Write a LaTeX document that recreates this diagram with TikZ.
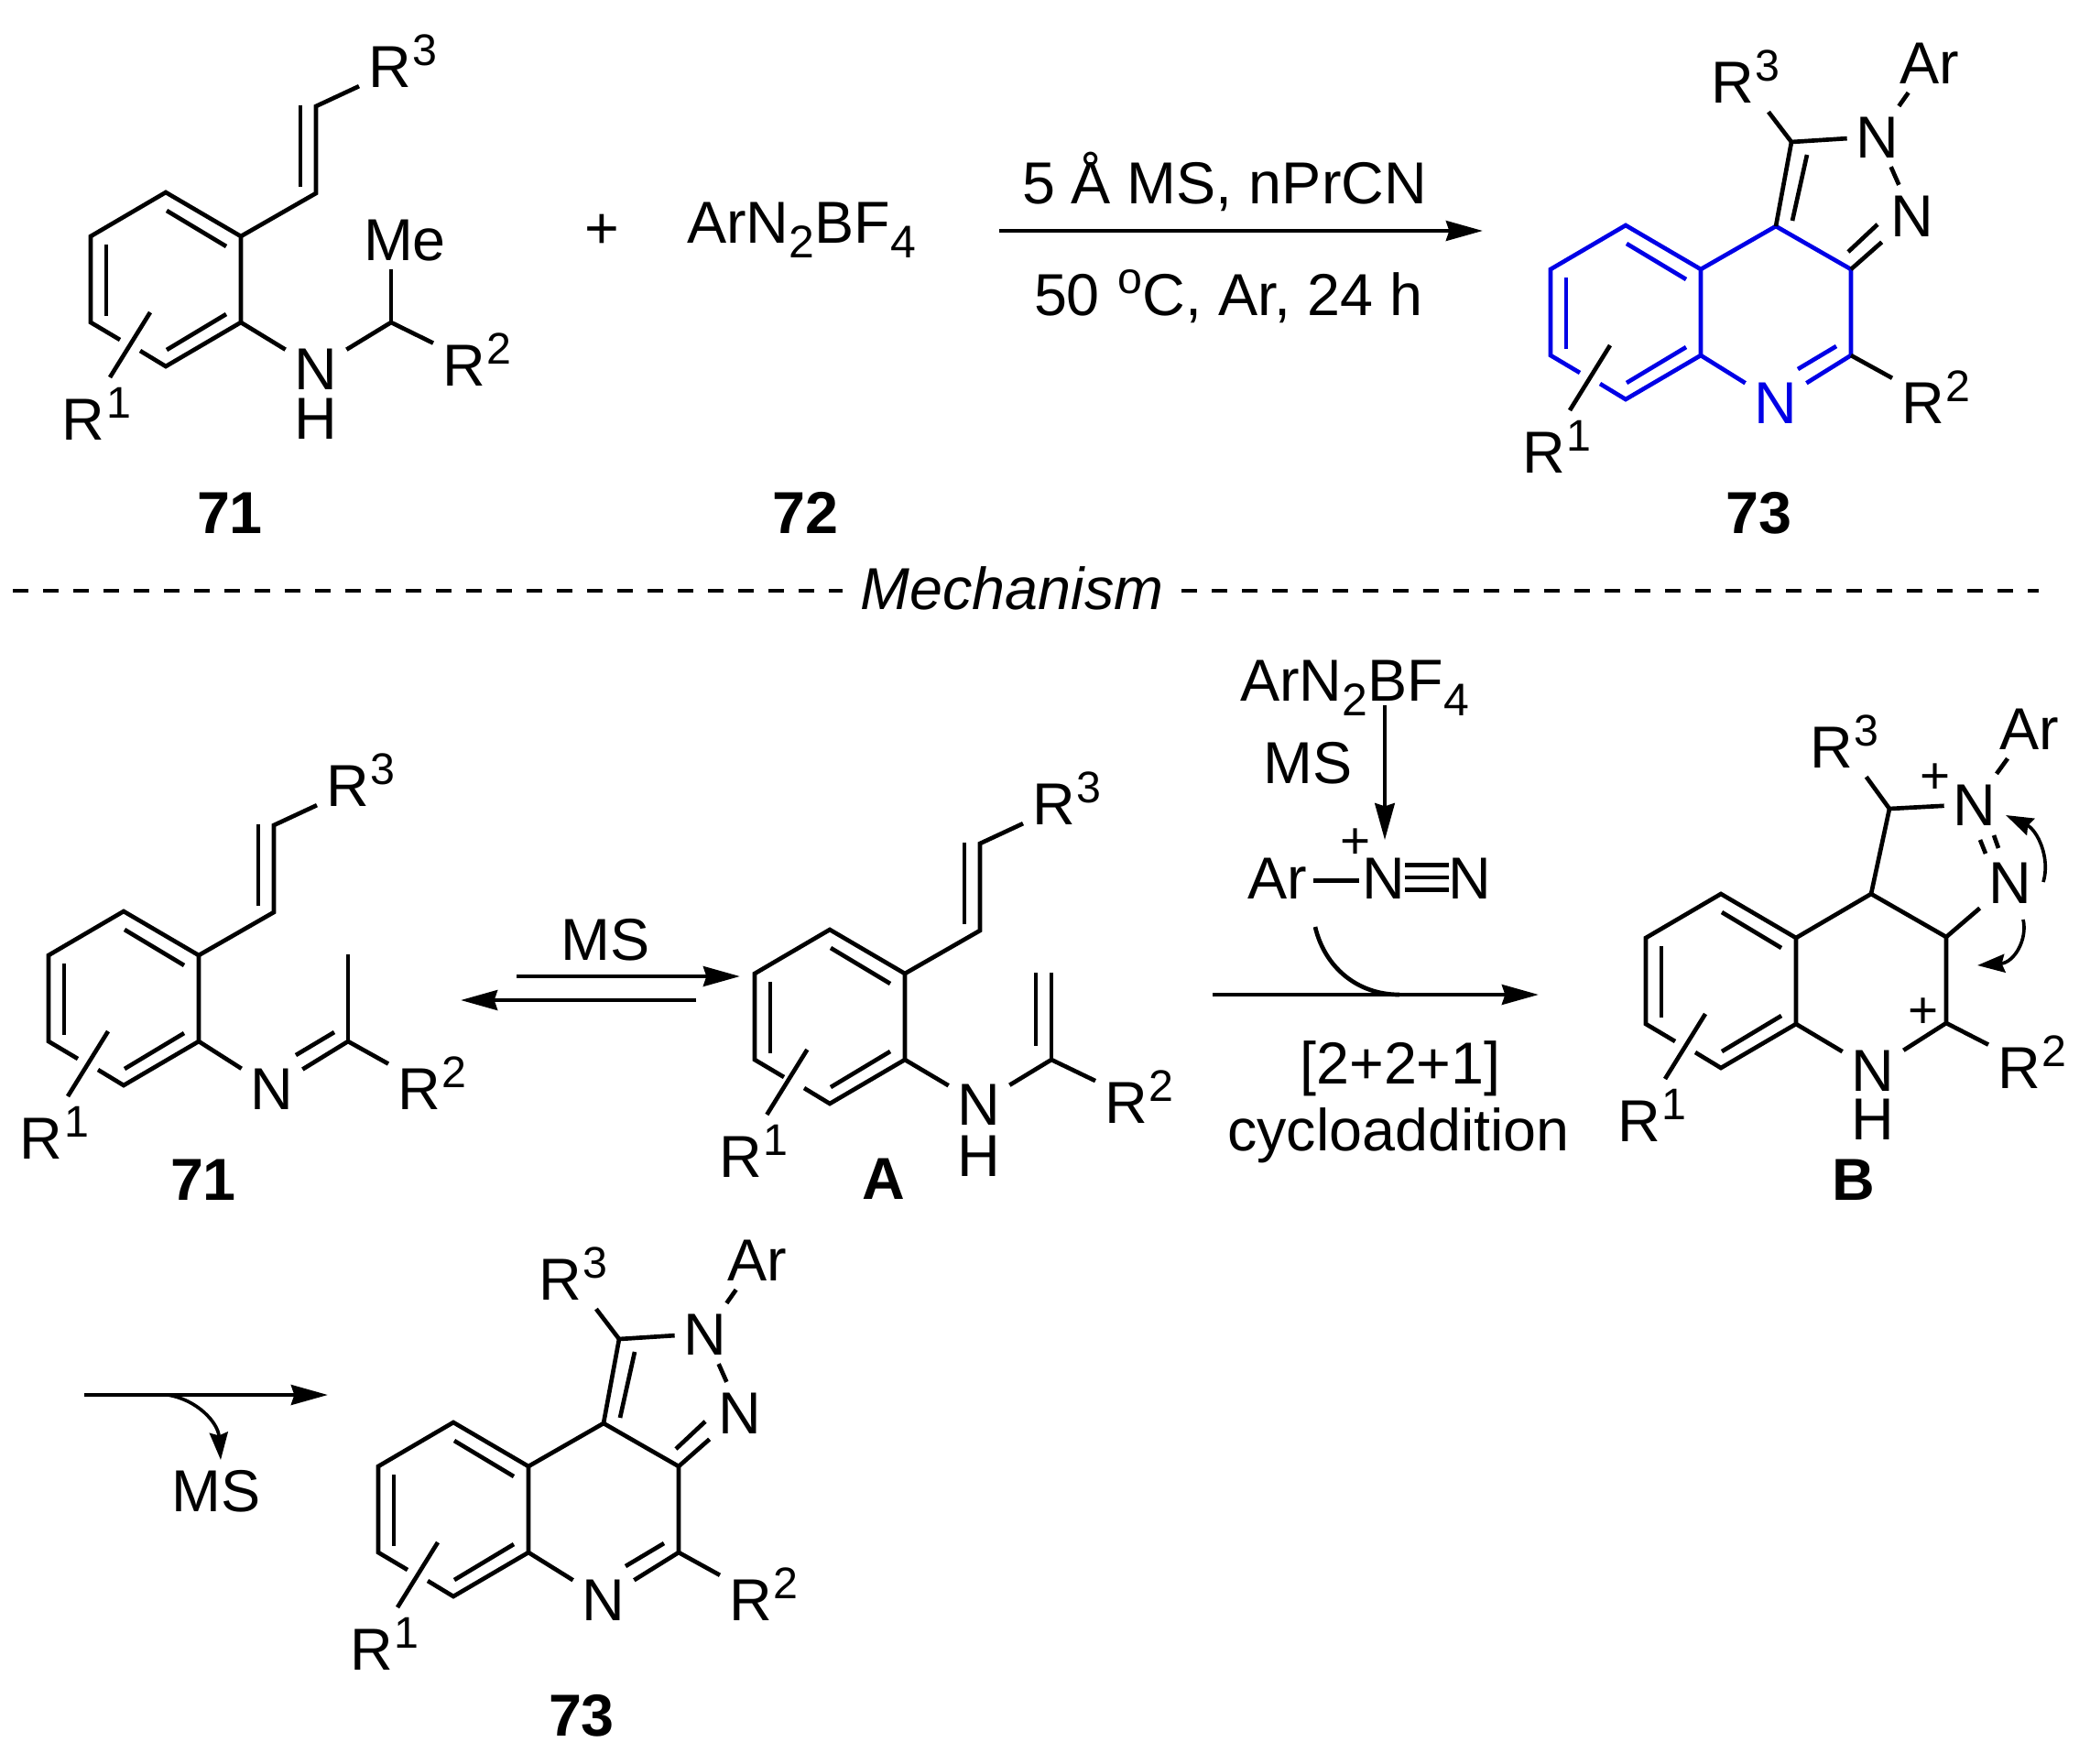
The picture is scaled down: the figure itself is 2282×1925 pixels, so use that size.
\documentclass[tikz,border=0pt]{standalone}
\usepackage{fontspec}
\setmainfont{Liberation Sans}
\usetikzlibrary{arrows.meta}

\definecolor{ringblue}{RGB}{0,0,230}
\newcommand{\rsup}[1]{\kern0.5pt\raisebox{7.2pt}{\fontsize{14.5pt}{14.5pt}\selectfont #1}}
\newcommand{\rsub}[1]{\raisebox{-5pt}{\fontsize{15pt}{15pt}\selectfont #1}}

\tikzset{
    every node/.style={font=\fontsize{19.4pt}{23pt}\selectfont},
    bond/.style={line width=1.4pt},
    ringbond/.style={bond},
    slashshift/.style={},
    atom/.style={inner sep=0pt, outer sep=3pt, text height=13.9pt, text depth=0pt},
    ringatom/.style={atom},
    rlab/.style={atom, anchor=west},
    charge/.style={atom, font=\fontsize{17pt}{20pt}\selectfont},
    cmpd/.style={atom, font=\fontsize{19.4pt}{23pt}\selectfont\bfseries},
    rxn/.style={line width=1.4pt, -{Stealth[length=12pt, width=6.5pt, inset=1pt]}},
    curly/.style={line width=1.1pt, -{Stealth[length=9pt, width=6pt, inset=1pt]}},
    pics/benzo/.style={code={
        \coordinate (-t) at (0,-95);
        \coordinate (-ur) at (82,-47);
        \coordinate (-lr) at (82,47);
        \coordinate (-b) at (0,95);
        \coordinate (-ll) at (-82,47);
        \coordinate (-ul) at (-82,-47);
        \coordinate (-g1) at (-50,66);
        \coordinate (-g2) at (-28,78);
        \draw[ringbond] (-g2) -- (-b) -- (-lr) -- (-ur) -- (-t) -- (-ul) -- (-ll) -- (-g1);
        \draw[ringbond] (1,-75) -- (66,-36);
        \draw[ringbond] (66,38) -- (1,77);
        \draw[ringbond] (-65,-38) -- (-65,40);
        \draw[bond, slashshift] (-17,36) -- (-61,107);
        \node[rlab, slashshift] (-r1) at (-123,152) {R\rsup{1}};
    }},
    pics/styryl/.style={code={
        \coordinate (-ur) at (82,-47);
        \coordinate (-v1) at (164,-94);
        \coordinate (-v2) at (164,-189);
        \node[rlab] (-r3) at (211,-233) {R\rsup{3}};
        \draw[bond] (-ur) -- (-v1) -- (-v2) -- (-r3);
        \draw[bond] (147,-190) -- (147,-101);
    }},
    pics/quin/.style={code={
        \coordinate (-c4) at (164,-94);
        \coordinate (-c3) at (246,-47);
        \coordinate (-c2) at (246,47);
        \coordinate (-c1) at (181,-186);
        \node[ringatom] (-n) at (164,98) {N};
        \node[atom] (-n1) at (275,-192) {N};
        \node[atom] (-n2) at (313,-106) {N};
        \node[atom] (-ar) at (332,-273) {Ar};
        \node[rlab] (-r3) at (83,-252) {R\rsup{3}};
        \node[rlab] (-r2) at (291,98) {R\rsup{2}};
        \draw[ringbond] (-ur) -- (-c4) -- (-c3) -- (-c2) -- (-n);
        \draw[ringbond] (-n) -- (-lr);
        \draw[ringbond] (230,37) -- (188,62);
        \draw[bond] (-c3) -- (-n2);
        \draw[bond] (-c4) -- (-c1) -- (-n1);
        \draw[bond] (-c1) -- (-r3);
        \draw[bond] (-n1) -- (-n2);
        \draw[bond] (-n1) -- (-ar);
        \draw[bond] (-c2) -- (-r2);
        \draw[bond] (243,-66) -- (275,-96);
        \draw[bond] (198,-172) -- (182,-100);
    }},
}

\begin{document}
\begin{tikzpicture}[x=0.3pt, y=-0.3pt]
    \useasboundingbox (0,0) rectangle (2282,1925);

    % top scheme
    \pic (ta) at (181,305) {benzo};
    \pic (ta) at (181,305) {styryl};
    \coordinate (tac) at (427,352);
    \node[atom] (tan) at (345,402) {N};
    \node[atom] (tah) at (345,456) {H};
    \node[atom] (tame) at (442,261) {Me};
    \node[rlab] (tar2) at (473,398) {R\rsup{2}};
    \draw[bond] (ta-lr) -- (tan) -- (tac) -- (tar2);
    \draw[bond] (tac) -- (tac |- tame.south);
    \node[cmpd] (ta71) at (251,559) {71};

    \node[atom] (plus) at (657,248) {+};
    \node[atom] (salt) at (875,242) {ArN\rsub{2}BF\rsub{4}};
    \node[cmpd] (ta72) at (879,559) {72};

    \coordinate (ts) at (1091,252);
    \coordinate (te) at (1619,252);
    \draw[rxn] (ts) -- (te);
    \node[atom] (cond1) at (1337,199) {5 Å MS, nPrCN};
    \node[atom] (cond2) at (1341,321) {50 \rsup{o}C, Ar, 24 h};

    \begin{scope}[ringbond/.style={bond, draw=ringblue}, ringatom/.style={atom, text=ringblue}]
        \pic (tq) at (1775,341) {benzo};
        \pic (tq) at (1775,341) {quin};
    \end{scope}
    \node[cmpd] (ta73) at (1920,559) {73};

    % divider
    \node[atom, outer sep=6pt, font=\fontsize{19.4pt}{23pt}\selectfont\itshape] (mech) at (1105,642) {Mechanism};
    \coordinate (dl) at (14,645);
    \coordinate (dr) at (2226,645);
    \draw[line width=1.3pt, dash pattern=on 5pt off 4.9pt] (dl) -- (dl -| mech.west);
    \draw[line width=1.3pt, dash pattern=on 5pt off 4.9pt] (dr -| mech.east) -- (dr);

    % imine
    \pic (ma) at (135,1090) {benzo};
    \pic (ma) at (135,1090) {styryl};
    \coordinate (mac) at (380,1137);
    \coordinate (mame) at (380,1042);
    \node[atom] (man) at (297,1188) {N};
    \node[rlab] (mar2) at (424,1188) {R\rsup{2}};
    \draw[bond] (ma-lr) -- (man);
    \draw[bond] (man) -- (mac) -- (mar2);
    \draw[bond] (mac) -- (mame);
    \draw[bond] (365,1127) -- (323,1152);
    \node[cmpd] (ma71) at (222,1287) {71};

    \coordinate (eqa) at (564,1066);
    \coordinate (eqb) at (808,1066);
    \coordinate (eqc) at (760,1092);
    \coordinate (eqd) at (503,1092);
    \draw[rxn] (eqa) -- (eqb);
    \draw[rxn] (eqc) -- (eqd);
    \node[atom] (eqms) at (661,1025) {MS};

    % enamine A
    \begin{scope}[slashshift/.style={xshift=-2.3pt}]
        \pic (en) at (906,1110) {benzo};
    \end{scope}
    \pic (en) at (906,1110) {styryl};
    \coordinate (enc) at (1148,1157);
    \coordinate (ent) at (1148,1062);
    \node[atom] (enn) at (1069,1205) {N};
    \node[atom] (enh) at (1069,1261) {H};
    \node[rlab] (enr2) at (1196,1203) {R\rsup{2}};
    \draw[bond] (en-lr) -- (enn) -- (enc) -- (enr2);
    \draw[bond] (enc) -- (ent);
    \draw[bond] (1131,1062) -- (1131,1142);
    \node[cmpd] (enA) at (965,1286) {A};

    % diazonium
    \node[atom] (dsalt) at (1479,742) {ArN\rsub{2}BF\rsub{4}};
    \node[atom] (dms) at (1428,832) {MS};
    \coordinate (dv1) at (1512,770);
    \coordinate (dv2) at (1512,917);
    \draw[line width=1.1pt, -{Stealth[length=12pt, width=6.5pt, inset=1pt]}] (dv1) -- (dv2);
    \node[charge] (dplus) at (1480,914) {+};
    \node[atom] (dar) at (1395,958) {Ar};
    \node[atom] (dn1) at (1511,958) {N};
    \node[atom] (dn2) at (1605,958) {N};
    \draw[bond] ([xshift=-1pt, yshift=-1pt]dar.east) -- ([xshift=2pt, yshift=-1pt]dn1.west);
    \draw[bond] ([xshift=-3pt, yshift=-4pt]dn1.east) -- ([xshift=3pt, yshift=-4pt]dn2.west);
    \draw[bond] ([xshift=-3pt]dn1.east) -- ([xshift=3pt]dn2.west);
    \draw[bond] ([xshift=-3pt, yshift=4pt]dn1.east) -- ([xshift=3pt, yshift=4pt]dn2.west);

    \coordinate (cys) at (1324,1086);
    \coordinate (cye) at (1680,1086);
    \coordinate (cyc) at (1436,1012);
    \draw[rxn] (cys) -- (cye);
    \draw[bond] (cyc) .. controls (1446,1055) and (1481,1086) .. (1528,1086);
    \node[atom] (cy1) at (1529,1160) {[2+2+1]};
    \node[atom] (cy2) at (1527,1233) {cycloaddition};

    % intermediate B
    \pic (bi) at (1879,1071) {benzo};
    \begin{scope}[shift={(1879,1071)}]
        \coordinate (bc4) at (164,-95);
        \coordinate (bc3) at (246,-48);
        \coordinate (bc2) at (246,46);
        \coordinate (bc1) at (184,-188);
        \node[atom] (bn) at (166,97) {N};
        \node[atom] (bh) at (166,150) {H};
        \node[atom] (bn1) at (277,-193) {N};
        \node[atom] (bn2) at (316,-108) {N};
        \node[atom] (bar) at (337,-276) {Ar};
        \node[rlab] (br3) at (87,-256) {R\rsup{3}};
        \node[rlab] (br2) at (292,94) {R\rsup{2}};
        \node[charge] (bp1) at (234,-228) {+};
        \node[charge] (bp2) at (221,28) {+};
        \draw[bond] (bi-lr) -- (bn) -- (bc2) -- (bc3) -- (bc4) -- (bi-ur);
        \draw[bond] (bc2) -- (br2);
        \draw[bond] (bc3) -- (bn2);
        \draw[bond] (bc4) -- (bc1) -- (bn1);
        \draw[bond] (bc1) -- (br3);
        \draw[bond] (bn1) -- (bar);
        \draw[bond] (283,-154) -- (289,-139);
        \draw[bond] (298,-159) -- (303,-145);
        \coordinate (bcs1) at (352,-108);
        \coordinate (bct1) at (311,-181);
        \coordinate (bcs2) at (330,-67);
        \coordinate (bct2) at (280,-17);
        \draw[curly] (bcs1) .. controls (360,-135) and (345,-165) .. (bct1);
        \draw[curly] (bcs2) .. controls (335,-45) and (320,-20) .. (bct2);
    \end{scope}
    \node[cmpd] (biB) at (2024,1287) {B};

    % product
    \coordinate (fs) at (92,1523);
    \coordinate (fe) at (358,1523);
    \coordinate (fc) at (183,1523);
    \coordinate (ft) at (241,1594);
    \draw[rxn] (fs) -- (fe);
    \draw[curly] (fc) .. controls (215,1528) and (238,1553) .. (ft);
    \node[atom] (fms) at (236,1627) {MS};
    \pic (fq) at (495,1648) {benzo};
    \pic (fq) at (495,1648) {quin};
    \node[cmpd] (fq73) at (635,1872) {73};
\end{tikzpicture}
\end{document}
